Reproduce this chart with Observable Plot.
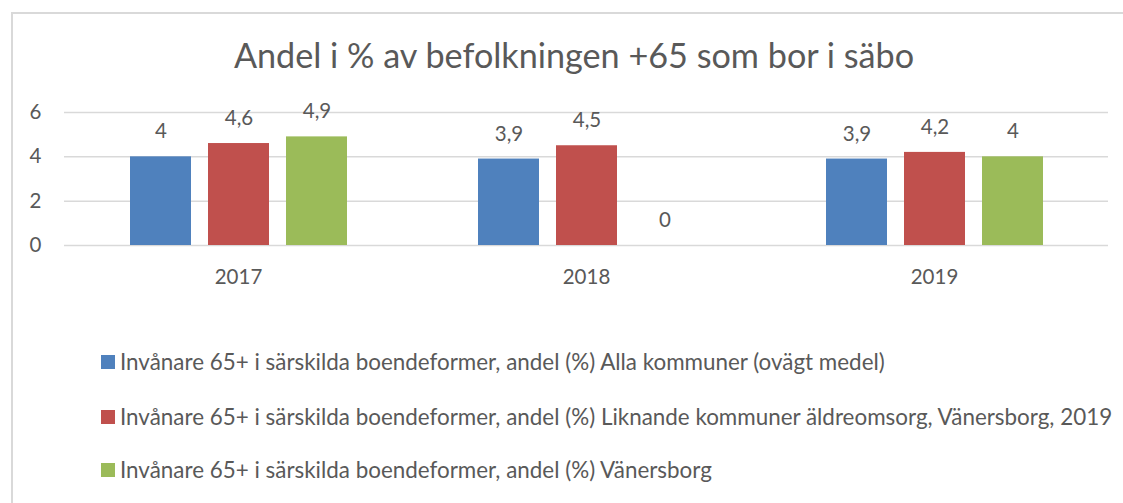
<!DOCTYPE html>
<html>
<head>
<meta charset="utf-8">
<script src="https://cdn.jsdelivr.net/npm/d3@7"></script>
<script src="https://cdn.jsdelivr.net/npm/@observablehq/plot@0.6"></script>
<style>
  html, body { margin: 0; padding: 0; background: #fff; }
  #wrap { position: relative; width: 1123px; height: 503px; overflow: hidden; }
  #frame { position: absolute; left: 11px; top: 12px; width: 1200px; height: 600px;
           border-left: 2px solid #d9d9d9; border-top: 2px solid #d9d9d9; }
  #chart, #overlay { position: absolute; left: 0; top: 0; }
</style>
</head>
<body>
<div id="wrap">
  <div id="frame"></div>
  <div id="chart"></div>
  <svg id="overlay" width="1123" height="503"></svg>
</div>
<script>
const title = "Andel i % av befolkningen +65 som bor i säbo";
const years = ["2017", "2018", "2019"];
const seriesNames = [
  "Invånare 65+ i särskilda boendeformer, andel (%) Alla kommuner (ovägt medel)",
  "Invånare 65+ i särskilda boendeformer, andel (%) Liknande kommuner äldreomsorg, Vänersborg, 2019",
  "Invånare 65+ i särskilda boendeformer, andel (%) Vänersborg"
];
const allaKommuner = [4.0, 3.9, 3.9];
const liknandeKommuner = [4.6, 4.5, 4.2];
const vanersborg = [4.9, 0, 4.0];
const colors = ["#4F81BD", "#C0504D", "#9BBB59"];
const yTicks = [0, 2, 4, 6];

const seriesValues = [allaKommuner, liknandeKommuner, vanersborg];
const data = [];
years.forEach((yr, i) => {
  seriesNames.forEach((s, j) => data.push({year: yr, series: s, value: seriesValues[j][i]}));
});

const FONT = "Lato, 'Open Sans', sans-serif";
const textColor = "#595959";
const fmt = v => String(v).replace(".", ",");

const chart = Plot.plot({
  width: 1123,
  height: 300,
  marginTop: 112,
  marginBottom: 55,
  marginLeft: 63,
  marginRight: 15,
  style: {fontFamily: FONT, fontSize: "20.5px", color: textColor, background: "transparent"},
  fx: {domain: years, padding: 0, axis: "bottom", label: null, tickSize: 0, tickPadding: 24},
  x: {domain: seriesNames, axis: null, paddingInner: 0.22, paddingOuter: 0.84},
  y: {domain: [0, 6], ticks: yTicks, tickFormat: d => String(d), label: null, tickSize: 0, tickPadding: 23},
  color: {domain: seriesNames, range: colors},
  marks: [
    Plot.ruleY(yTicks, {stroke: "#d9d9d9", strokeWidth: 1.5}),
    Plot.barY(data, {fx: "year", x: "series", y: "value", fill: "series"}),
    Plot.text(data, {fx: "year", x: "series", y: "value", text: d => fmt(d.value),
                     dy: -25, fill: textColor, fontSize: 20.5})
  ]
});
document.getElementById("chart").appendChild(chart);

// fit font sizes via canvas measurement
const ctx = document.createElement("canvas").getContext("2d");
function fitSize(text, target) {
  ctx.font = "100px " + FONT;
  return 100 * target / ctx.measureText(text).width;
}

const ov = d3.select("#overlay");
const titleSize = fitSize(title, 682);
ov.append("text")
  .attr("x", 574).attr("y", 68)
  .attr("text-anchor", "middle")
  .attr("font-family", FONT)
  .attr("font-size", titleSize)
  .attr("fill", textColor)
  .text(title);

const legendSize = fitSize(seriesNames[1], 994);
const legendRowY = [362, 417, 470];
seriesNames.forEach((s, i) => {
  ov.append("rect")
    .attr("x", 101).attr("y", legendRowY[i] - 7)
    .attr("width", 14).attr("height", 14)
    .attr("fill", colors[i]);
  ov.append("text")
    .attr("x", 120).attr("y", legendRowY[i])
    .attr("dy", "0.35em")
    .attr("font-family", FONT)
    .attr("font-size", legendSize)
    .attr("fill", textColor)
    .text(s);
});
</script>
</body>
</html>
